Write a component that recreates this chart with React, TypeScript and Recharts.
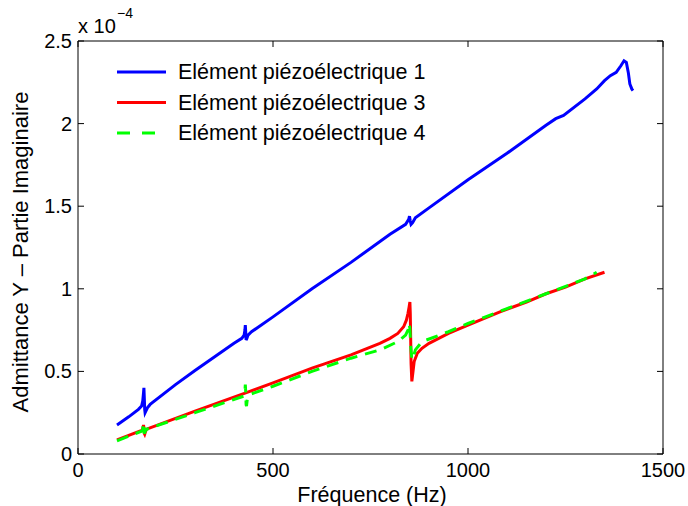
import { LineChart, Line, XAxis, YAxis } from "recharts"

// values in units of 1e-4 S (shown by the "x 10^-4" multiplier)
const freq1 = [100, 130, 155, 163, 166, 168, 169, 170, 171, 172, 174, 178, 185, 250, 300, 400, 420, 426, 428, 429, 430, 431, 433, 436, 445, 500, 600, 700, 800, 840, 848, 850, 852, 854, 858, 865, 900, 1000, 1100, 1200, 1225, 1245, 1300, 1330, 1350, 1365, 1380, 1392, 1400, 1406, 1411, 1415, 1420, 1423]
const elem1 = [0.176, 0.225, 0.27, 0.29, 0.32, 0.37, 0.4, 0.34, 0.27, 0.25, 0.26, 0.28, 0.3, 0.42, 0.505, 0.67, 0.7, 0.72, 0.75, 0.78, 0.74, 0.69, 0.7, 0.72, 0.74, 0.83, 1.0, 1.16, 1.33, 1.39, 1.42, 1.44, 1.41, 1.39, 1.4, 1.43, 1.49, 1.66, 1.82, 1.99, 2.03, 2.05, 2.15, 2.21, 2.26, 2.29, 2.31, 2.35, 2.38, 2.37, 2.31, 2.24, 2.21, 2.2]

const freq3 = [100, 165, 167, 168, 169, 170, 171, 173, 176, 300, 430, 500, 600, 700, 774, 800, 820, 835, 842, 846, 849, 851, 852, 853, 854, 856, 858, 862, 870, 882, 900, 950, 1000, 1082, 1150, 1200, 1250, 1300, 1350]
const elem3 = [0.085, 0.145, 0.165, 0.175, 0.16, 0.125, 0.12, 0.135, 0.15, 0.26, 0.37, 0.43, 0.52, 0.6, 0.67, 0.7, 0.73, 0.77, 0.81, 0.85, 0.89, 0.92, 0.85, 0.7, 0.55, 0.44, 0.48, 0.56, 0.61, 0.64, 0.67, 0.73, 0.78, 0.86, 0.92, 0.97, 1.01, 1.06, 1.1]

const freq4 = [100, 165, 167, 168, 169, 170, 171, 173, 176, 300, 425, 428, 429, 430, 431, 432, 434, 440, 500, 600, 700, 774, 820, 840, 846, 849, 851, 853, 856, 859, 865, 882, 950, 1000, 1100, 1200, 1300, 1330]
const elem4 = [0.08, 0.14, 0.17, 0.19, 0.17, 0.13, 0.13, 0.14, 0.15, 0.25, 0.35, 0.38, 0.42, 0.38, 0.3, 0.29, 0.33, 0.36, 0.41, 0.5, 0.58, 0.63, 0.68, 0.72, 0.75, 0.79, 0.76, 0.66, 0.57, 0.58, 0.63, 0.68, 0.74, 0.79, 0.88, 0.97, 1.06, 1.1]

const xTicks = [0, 500, 1000, 1500]
const yTicks = [0, 0.5, 1, 1.5, 2, 2.5]
const names = ["Elément piézoélectrique 1", "Elément piézoélectrique 3", "Elément piézoélectrique 4"]
const colors = ["#0000ff", "#ff0000", "#00ff00"]
const dashes = [undefined, undefined, "12 8"]

const toPoints = (f: number[], v: number[]) => f.map((x, i) => ({ f: x, y: v[i] }))
const series = [toPoints(freq1, elem1), toPoints(freq3, elem3), toPoints(freq4, elem4)]

const FONT = "'Liberation Sans', Arial, Helvetica, sans-serif"
const FS = 20
const LFS = 21.5
const TL = 6

const BottomTick = ({ x, y, payload }: any) => (
  <g>
    <line x1={x} y1={y} x2={x} y2={y - TL} stroke="#000" />
    <text x={x} y={y + 23} textAnchor="middle" fontFamily={FONT} fontSize={FS} fill="#000">
      {payload.value}
    </text>
  </g>
)

const TopTick = ({ x, y }: any) => <line x1={x} y1={y} x2={x} y2={y + TL} stroke="#000" />

const LeftTick = ({ x, y, payload }: any) => (
  <g>
    <line x1={x} y1={y} x2={x + TL} y2={y} stroke="#000" />
    <text x={x - 6} y={y + 7} textAnchor="end" fontFamily={FONT} fontSize={FS} fill="#000">
      {String(payload.value)}
    </text>
  </g>
)

const RightTick = ({ x, y }: any) => <line x1={x} y1={y} x2={x - TL} y2={y} stroke="#000" />

export default function App() {
  return (
    <div style={{ position: "fixed", left: 0, top: 0, width: 688, height: 506, background: "#fff" }}>
      <LineChart width={688} height={506} margin={{ top: 40, right: 24, bottom: 22, left: 38 }}>
        <XAxis
          dataKey="f"
          type="number"
          domain={[0, 1500]}
          ticks={xTicks}
          height={30}
          tickSize={0}
          tickMargin={0}
          tickLine={false}
          axisLine={{ stroke: "#000" }}
          tick={<BottomTick />}
        />
        <XAxis
          xAxisId="top"
          orientation="top"
          dataKey="f"
          type="number"
          domain={[0, 1500]}
          ticks={xTicks}
          height={1}
          tickSize={0}
          tickMargin={0}
          tickLine={false}
          axisLine={{ stroke: "#000" }}
          tick={<TopTick />}
        />
        <YAxis
          type="number"
          domain={[0, 2.5]}
          ticks={yTicks}
          width={40}
          tickSize={0}
          tickMargin={0}
          tickLine={false}
          axisLine={{ stroke: "#000" }}
          tick={<LeftTick />}
        />
        <YAxis
          yAxisId="right"
          orientation="right"
          type="number"
          domain={[0, 2.5]}
          ticks={yTicks}
          width={1}
          tickSize={0}
          tickMargin={0}
          tickLine={false}
          axisLine={{ stroke: "#000" }}
          tick={<RightTick />}
        />
        {/* invisible copy so the top/right frame axes get drawn */}
        <Line
          xAxisId="top"
          yAxisId="right"
          data={series[0]}
          dataKey="y"
          stroke="none"
          dot={false}
          activeDot={false}
          legendType="none"
          isAnimationActive={false}
        />
        {series.map((d, i) => (
          <Line
            key={names[i]}
            data={d}
            dataKey="y"
            name={names[i]}
            type="linear"
            stroke={colors[i]}
            strokeWidth={3}
            strokeDasharray={dashes[i]}
            dot={false}
            activeDot={false}
            isAnimationActive={false}
          />
        ))}
      </LineChart>

      <svg width={688} height={506} style={{ position: "absolute", left: 0, top: 0, pointerEvents: "none" }}>
        <text x={78} y={33} fontFamily={FONT} fontSize={FS} fill="#000">
          x 10
          <tspan x={117} y={18} fontSize={14}>−4</tspan>
        </text>
        <text x={372} y={502} textAnchor="middle" fontFamily={FONT} fontSize={LFS} fill="#000">
          Fréquence (Hz)
        </text>
        <text
          x={28}
          y={252}
          textAnchor="middle"
          transform="rotate(-90 28 252)"
          fontFamily={FONT}
          fontSize={22}
          fill="#000"
        >
          Admittance Y – Partie Imaginaire
        </text>
        {names.map((n, i) => {
          const y = 72 + i * 30.5
          return (
            <g key={n}>
              <line x1={117} y1={y} x2={166} y2={y} stroke={colors[i]} strokeWidth={3} strokeDasharray={i === 2 ? "13 12" : undefined} />
              <text x={178} y={y + 7} fontFamily={FONT} fontSize={LFS} fill="#000">
                {n}
              </text>
            </g>
          )
        })}
      </svg>
    </div>
  )
}
